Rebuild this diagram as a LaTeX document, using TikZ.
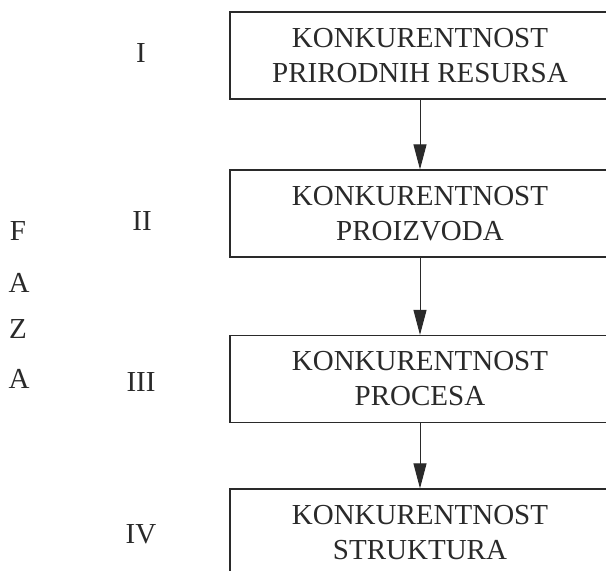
\documentclass[tikz,border=0pt]{standalone}
\usepackage{fontspec}
\setmainfont{Liberation Serif}
\usetikzlibrary{arrows.meta}
\definecolor{ink}{HTML}{2A2A2A}
\tikzset{
  stage/.style={draw=ink, line width=1.2pt, minimum width=380pt, minimum height=87pt,
    inner sep=0pt, align=center, text=ink, font=\fontsize{29}{35}\selectfont},
  lbl/.style={anchor=base, inner sep=0pt, text=ink, font=\fontsize{29}{35}\selectfont},
  flow/.style={draw=ink, line width=1pt, -{Triangle[width=13pt,length=25pt]}}
}
\begin{document}
\begin{tikzpicture}[x=1pt,y=-1pt]
\useasboundingbox (0,0) rectangle (606,571);
\clip (0,0) rectangle (606,571);
\fill[white] (0,0) rectangle (606,571);
\node[stage] (b1) at (420,55.5) {KONKURENTNOST\\PRIRODNIH RESURSA};
\node[stage] (b2) at (420,213.5) {KONKURENTNOST\\PROIZVODA};
\node[stage] (b3) at (420,379) {KONKURENTNOST\\PROCESA};
\node[stage] (b4) at (420,532.5) {KONKURENTNOST\\STRUKTURA};
\draw[flow] (b1.south) -- (b2.north);
\draw[flow] (b2.south) -- (b3.north);
\draw[flow] (b3.south) -- (b4.north);
\node[lbl] (l1) at (141,62) {I};
\node[lbl] (l2) at (142,230) {II};
\node[lbl] (l3) at (141,391) {III};
\node[lbl] (l4) at (141,543) {IV};
\node[lbl] (f1) at (18,240) {F};
\node[lbl] (f2) at (19,292) {A};
\node[lbl] (f3) at (18,338) {Z};
\node[lbl] (f4) at (19,388) {A};
\end{tikzpicture}
\end{document}
